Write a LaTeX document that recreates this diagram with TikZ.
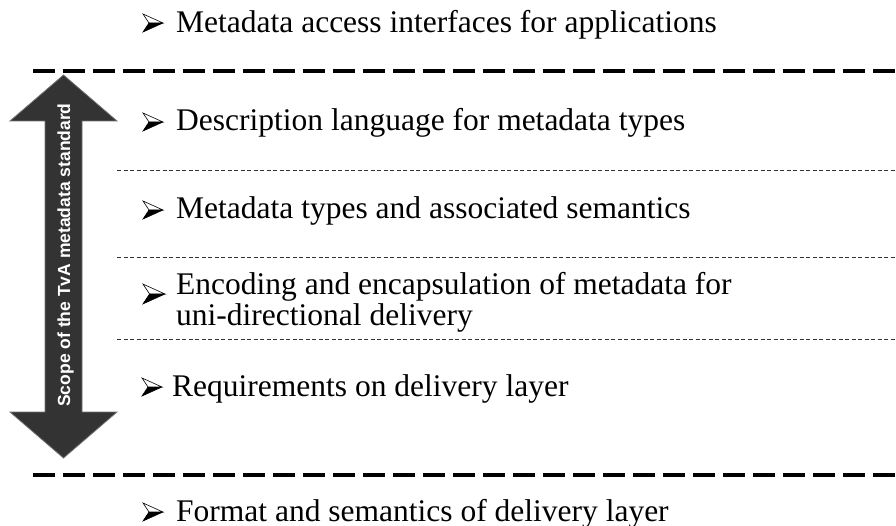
\documentclass[tikz,border=0pt]{standalone}
\usepackage{fontspec}
\setmainfont{Liberation Serif}
\newfontfamily\arialfont{Liberation Sans}
\begin{document}
\begin{tikzpicture}[x=1pt,y=-1pt,
  item/.style={anchor=base west,inner sep=0pt,font=\fontsize{31.5}{36}\selectfont},
  bigdash/.style={line width=4pt,dash pattern=on 22pt off 8pt},
  smalldash/.style={line width=0.9pt,black!80,dash pattern=on 4pt off 2.5pt},
  bul/.pic={
    \fill[black] (-4,0) -- (10,0) -- (-10,9) -- cycle;
    \draw[line width=0.6pt,line join=miter] (-10,-9) -- (10,0) -- (-4,0) -- cycle;
    \draw[line width=0.6pt] (-4,0) -- (-10,9) -- (10,0);
  }]
\useasboundingbox (0,0) rectangle (896,526);
\fill[white] (0,0) rectangle (896,526);

% heavy dashed boundaries
\draw[bigdash] (33,71) -- (896,71);
\draw[bigdash] (33,475) -- (896,475);
% light dashed separators
\draw[smalldash] (117,170) -- (896,170);
\draw[smalldash] (117,257) -- (896,257);
\draw[smalldash] (117,339) -- (896,339);

% double arrow
\filldraw[fill=black!80,draw=black!55,line width=0.8pt,line join=miter]
  (63.5,75) -- (117,121) -- (82,121) -- (82,412) -- (117,412) -- (63.5,458)
  -- (10,412) -- (45,412) -- (45,121) -- (10,121) -- cycle;
\node[rotate=90,anchor=base,inner sep=0pt,text=white,
  font=\arialfont\bfseries\fontsize{17.5}{20}\selectfont] (scope) at (70,255)
  {Scope of the TvA metadata standard};

% items
\pic at (153,23) {bul};
\node[item] (t1) at (176,33) {Metadata access interfaces for applications};
\pic at (153,122) {bul};
\node[item] (t2) at (176,131) {Description language for metadata types};
\pic at (153,210) {bul};
\node[item] (t3) at (176,219) {Metadata types and associated semantics};
\pic[scale=1.1] at (154,294) {bul};
\node[item] (t4a) at (176,295) {Encoding and encapsulation of metadata for};
\node[item] (t4b) at (176,325) {uni-directional delivery};
\pic at (152,387) {bul};
\node[item] (t5) at (172,396) {Requirements on delivery layer};
\pic at (153,512) {bul};
\node[item] (t6) at (176,521) {Format and semantics of delivery layer};
\end{tikzpicture}
\end{document}
